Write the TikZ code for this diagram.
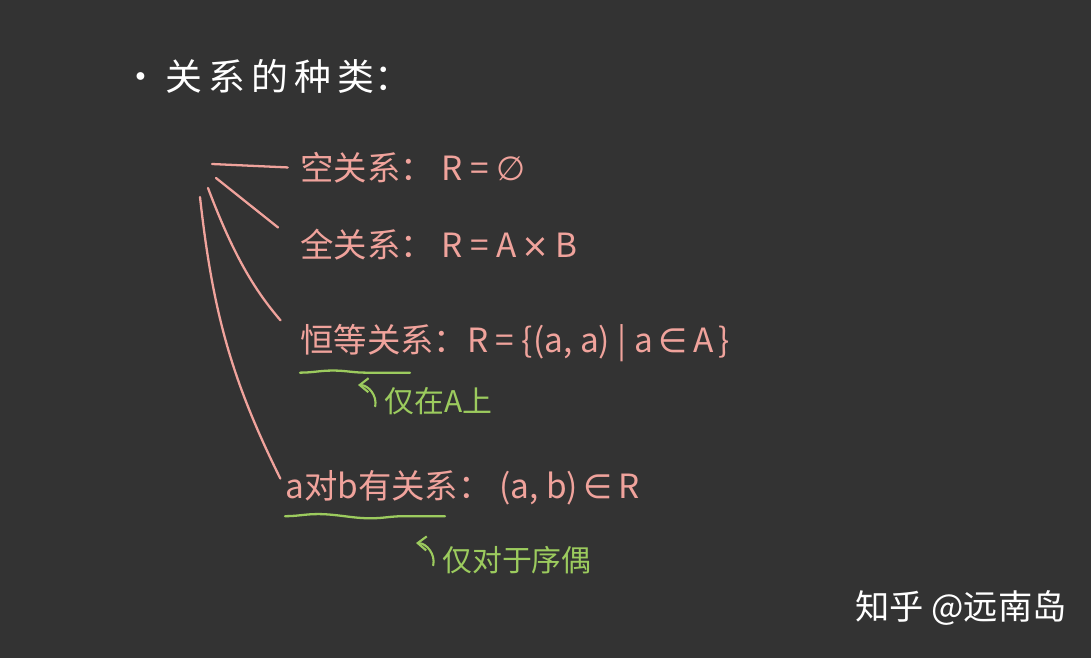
\documentclass[tikz,border=0pt]{standalone}
\usepackage{fontspec}
\usepackage{tikz}
\usetikzlibrary{positioning}
\usetikzlibrary{arrows.meta}
\usetikzlibrary{decorations.pathmorphing}
\setmainfont{Noto Sans CJK SC}
\newfontfamily\symfont{DejaVu Sans}
\definecolor{board}{HTML}{333333}
\definecolor{chalkpink}{HTML}{F0A39C}
\definecolor{chalkgreen}{HTML}{9CCB5E}

\begin{document}
\begin{tikzpicture}[
    x=0.02cm, y=-0.02cm,
    label/.style={
      anchor=west,
      inner sep=0pt,
      text=chalkpink,
      font=\fontsize{19}{21}\selectfont,
    },
    title/.style={
      anchor=west,
      inner sep=0pt,
      text=white,
      font=\fontsize{21}{23}\selectfont,
    },
    note/.style={
      anchor=west,
      inner sep=0pt,
      text=chalkgreen,
      font=\fontsize{17}{19}\selectfont,
    },
    branch/.style={
      draw=chalkpink,
      line width=1.3pt,
      line cap=round,
    },
    wavy/.style={
      draw=chalkgreen,
      line width=1.3pt,
      line cap=round,
      decorate,
      decoration={snake, amplitude=1.2pt, segment length=60pt},
    },
    hook/.style={
      draw=chalkgreen,
      line width=1.2pt,
      line cap=round,
      -{Straight Barb[length=5pt, width=8pt]},
    },
    ]
    \fill[board] (0,0) rectangle (1091,658);
    \useasboundingbox (0,0) rectangle (1091,658);

    \node[title] (kinds) at (122,76) {·\,关\,系\,的\,种\,类：};

    \node[label] (empty) at (300,168) {空关系：\ R = {\symfont ∅}};
    \node[label] (full) at (300,245) {全关系：\ R = A\,{\symfont ×}\,B};
    \node[label] (ident) at (300,343) {恒等关系：R = \{(a, a)\ |\ a\,{\symfont ∈}\,A\,\}};
    \node[label] (pair) at (285,488) {a对b有关系：\ (a, b)\,{\symfont ∈}\,R};

    \node[note] (onA) at (384,401) {仅在A上};
    \node[note] (onpair) at (442,560) {仅对于序偶};

    \node[anchor=west, inner sep=0pt, text=white,
      font=\fontsize{19.5}{22}\selectfont] (mark) at (855,608) {知乎 @远南岛};

    % branches from the corner
    \coordinate (h1) at (212,164);
    \coordinate (h2) at (216,178);
    \coordinate (h3) at (208,188);
    \coordinate (h4) at (200,197);
    \draw[branch, shorten >=7pt] (h1) -- (empty.west);
    \draw[branch, shorten >=16pt] (h2) -- (full.west);
    \draw[branch, shorten >=17pt] (h3) to[bend right=10] (ident.west);
    \draw[branch, shorten >=6pt] (h4) to[bend right=10] (pair.west);

    % underlines and hints
    \draw[wavy] ([yshift=-6pt]ident.south west) -- ([xshift=2.2cm, yshift=-6pt]ident.south west);
    \draw[wavy] ([yshift=-6pt]pair.south west) -- ([xshift=3.2cm, yshift=-6pt]pair.south west);
    \coordinate (tipA) at (358,385);
    \coordinate (tipB) at (416,543);
    \draw[hook] ([xshift=-5pt, yshift=-3pt]onA.west) to[bend right=50] (tipA);
    \draw[hook] ([xshift=-5pt, yshift=-3pt]onpair.west) to[bend right=50] (tipB);
  \end{tikzpicture}
\end{document}
